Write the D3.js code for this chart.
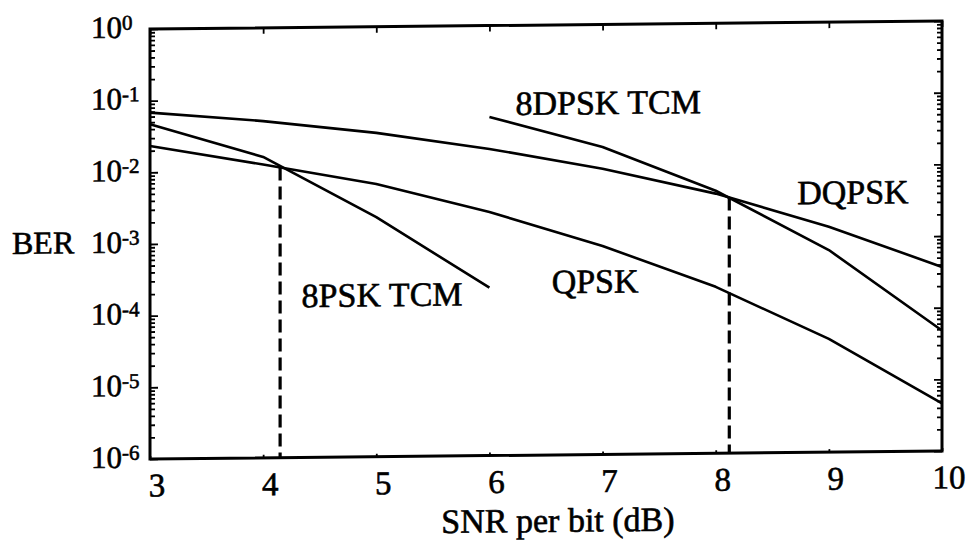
<!DOCTYPE html>
<html>
<head>
<meta charset="utf-8">
<script src="https://cdn.jsdelivr.net/npm/d3@7"></script>
<style>
  html, body { margin: 0; background: #fff; }
  svg { display: block; }
</style>
</head>
<body>
<svg width="971" height="542"></svg>
<script>
// SNR per bit (dB) sample points and bit error rates for each scheme
const snrDb = [3, 4, 5, 6, 7, 8, 9, 10];
const berQPSK = [0.0233, 0.0124, 0.0064, 0.0025, 0.00081, 0.00021, 3.8e-5, 4.6e-6];
const berDQPSK = [0.068, 0.050, 0.033, 0.019, 0.0097, 0.0042, 0.0014, 0.00037];
const snr8PSK = [3, 4, 5, 6];
const ber8PSKTCM = [0.047, 0.0158, 0.0022, 0.00022];
const snr8DPSK = [6, 7, 8, 9, 10];
const ber8DPSKTCM = [0.053, 0.0195, 0.0046, 0.00066, 4.8e-5];

// crossover markers (dashed drop lines)
const dropSnr = [4.15, 8.12];
const dropBer = [0.0112, 0.0037];

// curve labels, anchored at the start of their baseline
const curveNames = ["8DPSK TCM", "DQPSK", "8PSK TCM", "QPSK"];
const curveLabelSnr = [6.23, 8.72, 4.34, 6.55];
const curveLabelBer = [0.056, 0.0029, 0.000125, 0.00018];

const xTicks = [3, 4, 5, 6, 7, 8, 9, 10];
const yExponents = [0, -1, -2, -3, -4, -5, -6];

const FONT = "'Liberation Serif', 'Tinos', 'Times New Roman', 'DejaVu Serif', serif";

const svg = d3.select("svg").attr("font-family", FONT);
const plotLeft = 150, plotRight = 942, plotTop = 29, plotBottom = 459;

// the whole figure sits on a slight slope
const g = svg.append("g")
  .attr("font-family", FONT)
  .attr("transform", `translate(${plotLeft},0) skewY(-0.58) translate(${-plotLeft},0)`);

const x = d3.scaleLinear().domain([3, 10]).range([plotLeft, plotRight]);
const y = d3.scaleLog().domain([1e-6, 1]).range([plotBottom, plotTop]);

// minor log ticks (2..9 in each decade)
const minorTicks = [];
for (let e = -6; e < 0; e++) for (let k = 2; k <= 9; k++) minorTicks.push(k * Math.pow(10, e));
const majorTicks = yExponents.map(e => Math.pow(10, e));

function styleAxis(sel) {
  sel.select(".domain").remove();
  sel.selectAll("line").attr("stroke", "#000").attr("stroke-width", 1.8);
  sel.selectAll("text").remove();
}

// left axis ticks (inward)
g.append("g").attr("transform", `translate(${plotLeft},0)`)
  .call(d3.axisLeft(y).tickValues(minorTicks).tickSizeInner(-5).tickSizeOuter(0).tickFormat(""))
  .call(styleAxis);
g.append("g").attr("transform", `translate(${plotLeft},0)`)
  .call(d3.axisLeft(y).tickValues(majorTicks).tickSizeInner(-8).tickSizeOuter(0).tickFormat(""))
  .call(styleAxis);
// right axis ticks (inward)
g.append("g").attr("transform", `translate(${plotRight},0)`)
  .call(d3.axisRight(y).tickValues(minorTicks).tickSizeInner(-5).tickSizeOuter(0).tickFormat(""))
  .call(styleAxis);
g.append("g").attr("transform", `translate(${plotRight},0)`)
  .call(d3.axisRight(y).tickValues(majorTicks).tickSizeInner(-8).tickSizeOuter(0).tickFormat(""))
  .call(styleAxis);
// top and bottom ticks
g.append("g").attr("transform", `translate(0,${plotTop})`)
  .call(d3.axisTop(x).tickValues(xTicks).tickSizeInner(-6).tickSizeOuter(0).tickFormat(""))
  .call(styleAxis);
g.append("g").attr("transform", `translate(0,${plotBottom})`)
  .call(d3.axisBottom(x).tickValues(xTicks).tickSizeInner(-3).tickSizeOuter(0).tickFormat(""))
  .call(styleAxis);

// frame
g.append("rect")
  .attr("x", plotLeft).attr("y", plotTop)
  .attr("width", plotRight - plotLeft).attr("height", plotBottom - plotTop)
  .attr("fill", "none").attr("stroke", "#000").attr("stroke-width", 3);

// all text is set slightly heavy, like a printed figure
const textStyle = sel => sel.attr("fill", "#000").attr("stroke", "#000").attr("stroke-width", 0.6);

// y tick labels: 10 with a superscript exponent
const yLab = g.append("g").attr("font-family", FONT);
yExponents.forEach(e => {
  const t = yLab.append("text")
    .attr("x", 91).attr("y", y(Math.pow(10, e)) + 8.5)
    .attr("font-size", 31)
    .call(textStyle);
  t.append("tspan").text("10");
  t.append("tspan").attr("font-size", 21).attr("dy", -8).text(String(e));
});

// x tick labels
g.append("g").attr("font-family", FONT)
  .selectAll("text").data(xTicks).join("text")
  .attr("x", d => x(d) + 7).attr("y", 496.5)
  .attr("text-anchor", "middle").attr("font-size", 33)
  .call(textStyle)
  .text(d => d);

// axis titles
g.append("text").attr("x", 558).attr("y", 536)
  .attr("text-anchor", "middle").attr("font-size", 34)
  .call(textStyle)
  .text("SNR per bit (dB)");
g.append("text").attr("x", 12).attr("y", 252.6)
  .attr("font-size", 32)
  .call(textStyle)
  .text("BER");

// curves
const line = d3.line().x(d => x(d[0])).y(d => y(d[1]));
const curves = [
  d3.zip(snrDb, berQPSK),
  d3.zip(snrDb, berDQPSK),
  d3.zip(snr8PSK, ber8PSKTCM),
  d3.zip(snr8DPSK, ber8DPSKTCM)
];
g.append("g").selectAll("path").data(curves).join("path")
  .attr("d", line)
  .attr("fill", "none").attr("stroke", "#000")
  .attr("stroke-width", 2.6).attr("stroke-linejoin", "round");

// dashed drop lines at the crossovers
g.append("g").selectAll("line").data(d3.zip(dropSnr, dropBer)).join("line")
  .attr("x1", d => x(d[0])).attr("x2", d => x(d[0]))
  .attr("y1", d => y(d[1])).attr("y2", plotBottom)
  .attr("stroke", "#000").attr("stroke-width", 3.2)
  .attr("stroke-dasharray", "13,6");

// curve labels
g.append("g").attr("font-family", FONT)
  .selectAll("text").data(d3.zip(curveNames, curveLabelSnr, curveLabelBer)).join("text")
  .attr("x", d => x(d[1])).attr("y", d => y(d[2]))
  .attr("font-size", 34)
  .call(textStyle)
  .text(d => d[0]);
</script>
</body>
</html>
